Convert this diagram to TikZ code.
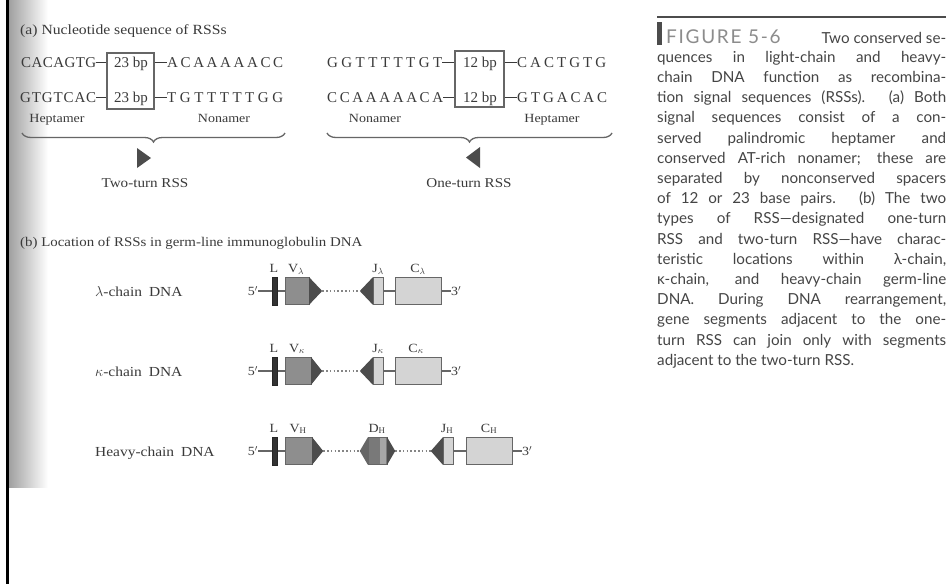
\documentclass[tikz,border=0pt]{standalone}
\usepackage{fontspec}
\setmainfont{Liberation Serif}
\newfontfamily\scanfont[FakeStretch=1.12]{Liberation Serif}
\newfontfamily\capfont{Lato}
\usetikzlibrary{decorations.pathreplacing,calc,backgrounds}
\definecolor{ink}{HTML}{3A3A3A}
\definecolor{capink}{HTML}{454545}
\definecolor{figgray}{HTML}{8C8C8C}
\definecolor{vgray}{HTML}{8E8E8E}
\definecolor{dgray}{HTML}{4C4C4C}
\definecolor{lgray}{HTML}{D4D4D4}
\definecolor{edge}{HTML}{666666}
\newcommand\spreadtxt[2]{\hbox to #1{\spaceskip=0pt plus 1fil\relax #2}}
\newcommand\capjust[1]{\makebox[289pt][s]{#1}}
\begin{document}
\begin{tikzpicture}[x=1pt,y=-1pt,
  txt/.style={inner sep=0pt, text=ink, font=\scanfont\fontsize{13.3}{13.3}\selectfont},
  seqtxt/.style={inner sep=0pt, text=ink, font=\fontsize{15}{15}\selectfont, anchor=base west},
  bptxt/.style={inner sep=0pt, text=ink, font=\fontsize{15}{15}\selectfont, anchor=base},
  spacer/.style={draw=edge, line width=1.1pt, inner sep=0pt},
  seqdash/.style={draw=ink, line width=1pt},
  bracestyle/.style={draw=edge, line width=1.3pt, decorate, decoration={brace, mirror, amplitude=9pt}},
  rsstri/.style={fill=dgray},
  lbar/.style={draw=black!85, fill=black!80, minimum width=5pt, minimum height=28pt, inner sep=0pt},
  vbox/.style={draw=edge, fill=vgray, minimum height=27pt, inner sep=0pt},
  jbox/.style={draw=edge, fill=lgray, minimum width=10pt, minimum height=27pt, inner sep=0pt},
  cbox/.style={draw=edge, fill=lgray, minimum width=46pt, minimum height=27pt, inner sep=0pt},
  dbox/.style={draw=edge, fill=vgray!85!black, minimum width=19pt, minimum height=27pt, inner sep=0pt},
  dna/.style={draw=edge, line width=1.2pt},
  dnadots/.style={draw=edge!80, line width=1.6pt, dash pattern=on 1.6pt off 2.2pt},
  seglab/.style={inner sep=0pt, text=ink, font=\scanfont\fontsize{12.5}{12.5}\selectfont, anchor=base},
  rowlab/.style={inner sep=0pt, text=ink, font=\scanfont\fontsize{13.8}{13.8}\selectfont, anchor=base west},
  capline/.style={inner sep=0pt, text=capink, font=\capfont\fontsize{15.2}{15.2}\selectfont, anchor=base west}
]
\useasboundingbox (0,0) rectangle (951,584);
\begin{scope}[on background layer]
\fill[white] (0,0) rectangle (951,584);
\shade[left color=black!38, right color=white] (8,0) rectangle (48,487);
\fill[black] (5.5,0) rectangle (8.5,584);
\end{scope}

% ---------- (a) ----------
\node[txt, anchor=base west, font=\scanfont\fontsize{14}{14}\selectfont] (ha) at (20,34) {(a) Nucleotide sequence of RSSs};

% two-turn RSS
\node[seqtxt] (a1) at (21,67) {\spreadtxt{75pt}{C A C A G T G}};
\node[seqtxt] (a2) at (20,102) {\spreadtxt{76pt}{G T G T C A C}};
\node[spacer, minimum width=47pt, minimum height=56pt] (b23) at (130.5,81) {};
\node[bptxt] (b23a) at (131,67) {23 bp};
\node[bptxt] (b23b) at (131,102) {23 bp};
\node[seqtxt] (a3) at (167,67) {\spreadtxt{116pt}{A C A A A A A C C}};
\node[seqtxt] (a4) at (167,102) {\spreadtxt{116pt}{T G T T T T T G G}};
\draw[seqdash] (a1.east |- 0,62) -- (b23.west |- 0,62);
\draw[seqdash] (a2.east |- 0,97) -- (b23.west |- 0,97);
\draw[seqdash] (b23.east |- 0,62) -- (a3.west |- 0,62);
\draw[seqdash] (b23.east |- 0,97) -- (a4.west |- 0,97);
\node[txt, anchor=base, font=\scanfont\fontsize{12.5}{12.5}\selectfont] (hep1) at (57,122) {Heptamer};
\node[txt, anchor=base, font=\scanfont\fontsize{12.5}{12.5}\selectfont] (non1) at (224,122) {Nonamer};
\draw[bracestyle] (22,133) -- (285,133);
\fill[rsstri] (137,148) -- (151,158) -- (137,168) -- cycle;
\node[txt, anchor=base, font=\scanfont\fontsize{13.5}{13.5}\selectfont] (two) at (145,187) {Two-turn RSS};

% one-turn RSS
\node[seqtxt] (r1) at (327,67) {\spreadtxt{115pt}{G G T T T T T G T}};
\node[seqtxt] (r2) at (327,102) {\spreadtxt{116pt}{C C A A A A A C A}};
\node[spacer, minimum width=49pt, minimum height=56pt] (b12) at (479.5,79) {};
\node[bptxt] (b12a) at (480,67) {12 bp};
\node[bptxt] (b12b) at (480,102) {12 bp};
\node[seqtxt] (r3) at (517,67) {\spreadtxt{89pt}{C A C T G T G}};
\node[seqtxt] (r4) at (517,102) {\spreadtxt{90pt}{G T G A C A C}};
\draw[seqdash] (r1.east |- 0,62) -- (b12.west |- 0,62);
\draw[seqdash] (r2.east |- 0,97) -- (b12.west |- 0,97);
\draw[seqdash] (b12.east |- 0,62) -- (r3.west |- 0,62);
\draw[seqdash] (b12.east |- 0,97) -- (r4.west |- 0,97);
\node[txt, anchor=base, font=\scanfont\fontsize{12.5}{12.5}\selectfont] (non2) at (375,122) {Nonamer};
\node[txt, anchor=base, font=\scanfont\fontsize{12.5}{12.5}\selectfont] (hep2) at (552,122) {Heptamer};
\draw[bracestyle] (327,133) -- (612,133);
\fill[rsstri] (480,147) -- (466,157.5) -- (480,168) -- cycle;
\node[txt, anchor=base, font=\scanfont\fontsize{13.5}{13.5}\selectfont] (one) at (469,187) {One-turn RSS};

% ---------- (b) ----------
\node[txt, anchor=base west] (hb) at (20,246) {(b) Location of RSSs in germ-line immunoglobulin DNA};

% lambda row
\node[rowlab] (labL) at (95,296) {$\lambda$-chain\hspace{7pt}DNA};
\node[lbar] (lL) at (274.5,291) {};
\node[vbox, minimum width=24pt] (lV) at (297,291) {};
\node[jbox] (lJ) at (378,291) {};
\node[cbox] (lC) at (418,291) {};
\node[seglab, anchor=base east] (l5) at (258,295.5) {5$'$};
\node[seglab, anchor=base west] (l3) at (451,295.5) {3$'$};
\fill[rsstri] (lV.north east) -- ($(lV.east)+(13,0)$) coordinate (lVt) -- (lV.south east) -- cycle;
\fill[rsstri] (lJ.north west) -- ($(lJ.west)+(-13,0)$) coordinate (lJt) -- (lJ.south west) -- cycle;
\node[seglab] at (274,272) {L};
\node[seglab] at (296,272) {V$_\lambda$};
\node[seglab] at (378,272) {J$_\lambda$};
\node[seglab] at (418,272) {C$_\lambda$};
\begin{scope}[on background layer]
\draw[dna] (l5.east |- lL) -- (lV.west);
\draw[dnadots] (lVt) -- (lJt);
\draw[dna] (lJ.east) -- (lC.west);
\draw[dna] (lC.east) -- (l3.west |- lC);
\end{scope}

% kappa row
\node[rowlab] (labK) at (95,376) {$\kappa$-chain\hspace{7pt}DNA};
\node[lbar] (kL) at (274.5,371) {};
\node[vbox, minimum width=26pt] (kV) at (298,371) {};
\node[jbox] (kJ) at (378,371) {};
\node[cbox] (kC) at (418,371) {};
\node[seglab, anchor=base east] (k5) at (258,375.5) {5$'$};
\node[seglab, anchor=base west] (k3) at (451,375.5) {3$'$};
\fill[rsstri] (kV.north east) -- ($(kV.east)+(11,0)$) coordinate (kVt) -- (kV.south east) -- cycle;
\fill[rsstri] (kJ.north west) -- ($(kJ.west)+(-13,0)$) coordinate (kJt) -- (kJ.south west) -- cycle;
\node[seglab] at (274,352) {L};
\node[seglab] at (297,352) {V$_\kappa$};
\node[seglab] at (378,352) {J$_\kappa$};
\node[seglab] at (416,352) {C$_\kappa$};
\begin{scope}[on background layer]
\draw[dna] (k5.east |- kL) -- (kV.west);
\draw[dnadots] (kVt) -- (kJt);
\draw[dna] (kJ.east) -- (kC.west);
\draw[dna] (kC.east) -- (k3.west |- kC);
\end{scope}

% heavy row
\node[rowlab] (labH) at (95,456) {Heavy-chain\hspace{7pt}DNA};
\node[lbar] (hL) at (274.5,451) {};
\node[vbox, minimum width=27pt] (hV) at (298.5,451) {};
\node[dbox] (hD) at (377.5,451) {};
\fill[black!35] ($(hD.north east)+(-7,0.6)$) rectangle ($(hD.south east)+(-1.5,-0.6)$);
\node[jbox] (hJ) at (448,451) {};
\node[cbox] (hC) at (489,451) {};
\node[seglab, anchor=base east] (h5) at (258,455.5) {5$'$};
\node[seglab, anchor=base west] (h3) at (522,455.5) {3$'$};
\fill[rsstri] (hV.north east) -- ($(hV.east)+(11,0)$) coordinate (hVt) -- (hV.south east) -- cycle;
\fill[fill=black!60] (hD.north west) -- ($(hD.west)+(-8,0)$) coordinate (hDl) -- (hD.south west) -- cycle;
\fill[rsstri] (hD.north east) -- ($(hD.east)+(8,0)$) coordinate (hDr) -- (hD.south east) -- cycle;
\fill[rsstri] (hJ.north west) -- ($(hJ.west)+(-12,0)$) coordinate (hJt) -- (hJ.south west) -- cycle;
\node[seglab] at (274,432) {L};
\node[seglab] at (298,432) {V$_\mathrm{H}$};
\node[seglab] at (377,432) {D$_\mathrm{H}$};
\node[seglab] at (447,432) {J$_\mathrm{H}$};
\node[seglab] at (489,432) {C$_\mathrm{H}$};
\begin{scope}[on background layer]
\draw[dna] (h5.east |- hL) -- (hV.west);
\draw[dnadots] (hVt) -- (hDl);
\draw[dnadots] (hDr) -- (hJt);
\draw[dna] (hJ.east) -- (hC.west);
\draw[dna] (hC.east) -- (h3.west |- hC);
\end{scope}

% ---------- caption ----------
\draw[black!70, line width=1.6pt] (657,17) -- (946,17);
\fill[black!70] (657,22) rectangle (662,45);
\node[capline] (c1) at (666,43) {\makebox[280pt][s]{{\color{figgray}\fontsize{19}{19}\selectfont\addfontfeature{LetterSpace=9}FIGURE 5-6}\hspace{8pt plus 1fil}Two conserved se-}};
\node[capline] (c2) at (657,62.2) {\capjust{quences in light-chain and heavy-}};
\node[capline] (c3) at (657,82.4) {\capjust{chain DNA function as recombina-}};
\node[capline] (c4) at (657,102.6) {\capjust{tion signal sequences (RSSs). (a) Both}};
\node[capline] (c5) at (657,122.8) {\capjust{signal sequences consist of a con-}};
\node[capline] (c6) at (657,143) {\capjust{served palindromic heptamer and}};
\node[capline] (c7) at (657,163.2) {\capjust{conserved AT-rich nonamer; these are}};
\node[capline] (c8) at (657,183.4) {\capjust{separated by nonconserved spacers}};
\node[capline] (c9) at (657,203.6) {\capjust{of 12 or 23 base pairs. (b) The two}};
\node[capline] (c10) at (657,223.8) {\capjust{types of RSS—designated one-turn}};
\node[capline] (c11) at (657,244) {\capjust{RSS and two-turn RSS—have charac-}};
\node[capline] (c12) at (657,264.2) {\capjust{teristic locations within λ-chain,}};
\node[capline] (c13) at (657,284.4) {\capjust{κ-chain, and heavy-chain germ-line}};
\node[capline] (c14) at (657,304.6) {\capjust{DNA. During DNA rearrangement,}};
\node[capline] (c15) at (657,324.8) {\capjust{gene segments adjacent to the one-}};
\node[capline] (c16) at (657,345) {\capjust{turn RSS can join only with segments}};
\node[capline] (c17) at (657,365.2) {adjacent to the two-turn RSS.};
\end{tikzpicture}
\end{document}
